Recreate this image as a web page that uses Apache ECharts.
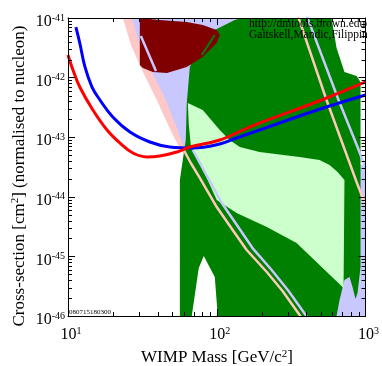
<!DOCTYPE html>
<html>
<head>
<meta charset="utf-8">
<script src="https://cdn.jsdelivr.net/npm/echarts@6/dist/echarts.min.js"></script>
<style>
  html, body { margin: 0; padding: 0; background: #fff; }
  #chart { width: 382px; height: 366px; }
</style>
</head>
<body>
<div id="chart"></div>
<script>
  // all points are [WIMP mass in GeV, cross-section in cm^2]
  var redLimit = [[10, 2.40e-42], [10.8, 1.34e-42], [12.0, 6.95e-43], [14.7, 2.86e-43], [18.3, 1.32e-43],
    [22.3, 8.00e-44], [27.3, 5.43e-44], [33.9, 4.66e-44], [41.4, 4.84e-44], [53.9, 5.65e-44],
    [65.9, 6.85e-44], [104.8, 8.97e-44], [166, 1.48e-43], [507, 4.21e-43], [1000, 8.44e-43]];
  var blueLimit = [[11.3, 7.06e-42], [12.0, 3.81e-42], [13.0, 1.51e-42], [14.5, 6.95e-43], [16.4, 4.21e-43],
    [20.0, 2.18e-43], [26.1, 1.22e-43], [35.5, 8.31e-44], [48.4, 6.85e-44], [69.0, 6.59e-44],
    [104.8, 7.69e-44], [136, 9.70e-44], [194, 1.32e-43], [360, 2.27e-43], [573, 3.34e-43], [1000, 5.11e-43]];

  var pinkBand = [[23.4, 1e-41], [26.5, 3.52e-42], [31.9, 1.24e-42], [39.5, 4.21e-43], [49.9, 1.18e-43],
    [57.3, 6.10e-44], [61.9, 4.84e-44], [61.0, 6.10e-44], [55.6, 1.18e-43], [45.5, 4.21e-43],
    [36.6, 1.24e-42], [30.4, 3.52e-42], [26.9, 1e-41]];
  var lavenderWedge = [[25.3, 1e-41], [166, 1e-41], [166, 1.94e-43], [76.9, 2.32e-44], [59.1, 6.10e-44],
    [53.1, 1.18e-43], [42.8, 4.21e-43], [34.4, 1.24e-42], [28.6, 3.52e-42]];
  var lavenderEdge = [[573, 3.42e-44], [1000, 3.42e-44], [1000, 1e-46], [573, 1e-46]];
  var greenRegion = [[56.5, 1e-46], [56.5, 1.91e-44], [59.1, 4.14e-44], [61.9, 8.97e-44], [62.9, 3.75e-43],
    [65.9, 1.51e-42], [76.9, 3.52e-42], [97.0, 6.29e-42], [132, 9.26e-42], [147, 1e-41], [591, 1e-41],
    [639, 3.14e-42], [722, 1.24e-42], [871, 1.06e-42], [926, 8.44e-43], [926, 6.64e-46], [884, 2.43e-46],
    [857, 1.93e-46], [818, 3.07e-46], [781, 4.51e-46], [722, 4.02e-46], [669, 1.85e-46], [639, 1e-46],
    [101.6, 1e-46], [97.0, 4.51e-46], [81.8, 1.02e-45], [75.7, 6.39e-46], [67.9, 1e-46]];
  var lightGreenRegion = [[63.9, 3.75e-43], [80.5, 2.86e-43], [104.8, 1.32e-43], [122, 8.97e-44], [143, 6.85e-44],
    [194, 5.65e-44], [360, 4.66e-44], [491, 4.14e-44], [573, 3.42e-44], [649, 2.61e-44], [722, 1.91e-44],
    [712, 2.95e-46], [344, 1.68e-45], [217, 3.11e-45], [136, 5.35e-45], [100, 8.84e-45], [85.7, 2.07e-44],
    [74.6, 4.14e-44], [66.9, 7.40e-44], [64.9, 1.60e-43]];
  var darkRedRegion = [[30.4, 1e-41], [41.4, 9.26e-42], [62.9, 8.57e-42], [80.5, 7.63e-42], [100, 6.29e-42],
    [104.8, 5.19e-42], [100, 3.81e-42], [80.5, 2.22e-42], [62.9, 1.51e-42], [46.2, 1.19e-42],
    [37.2, 1.24e-42], [31.9, 1.45e-42], [30.4, 1.63e-42]];
  var darkRedLavStreak = [[30.9, 4.99e-42], [39.0, 1.29e-42]];
  var darkRedGreenStreak = [[97.0, 5.19e-42], [79.3, 2.40e-42]];

  var pinkLineLower = [[60.0, 6.10e-44], [66.9, 3.69e-44], [76.9, 2.07e-44], [100, 6.74e-45], [128, 2.77e-45],
    [159, 1.28e-45], [217, 5.47e-46], [277, 2.63e-46], [390, 7.9e-47]];
  var lavLineLower = [[69.0, 6.10e-44], [83.0, 2.61e-44], [108.1, 7.87e-45], [138, 3.24e-45], [174, 1.38e-45],
    [234, 5.91e-46], [304, 2.63e-46], [428, 7.9e-47]];
  var pinkLineUpper = [[344, 1.26e-41], [547, 4.21e-43], [871, 1.77e-44], [1000, 7.28e-45]];
  var lavLineUpper = [[394, 1.26e-41], [659, 4.21e-43], [884, 6.85e-44], [1000, 3.04e-44]];

  // axis range as powers of ten
  var xDecades = [1, 2, 3];
  var yDecades = [-46, -45, -44, -43, -42, -41];

  var F = 'Liberation Serif';
  var PINK = '#ffc8c8', PINK_LINE = '#ffc8b8', LAV = '#c8c8ff', GREEN = '#008000', LGREEN = '#ccffcc', DRED = '#800000';

  function toLog(pts) {
    return pts.map(function (p) { return [Math.log10(p[0]), Math.log10(p[1])]; });
  }

  function areaSeries(pts, color) {
    var lp = toLog(pts);
    return {
      type: 'custom', coordinateSystem: 'cartesian2d', clip: true, silent: true,
      data: [lp[0]],
      renderItem: function (params, api) {
        return {
          type: 'polygon',
          shape: { points: lp.map(function (p) { return api.coord(p); }) },
          style: { fill: color }
        };
      }
    };
  }

  function lineSeries(pts, color, width, smooth) {
    return {
      type: 'line', data: toLog(pts), symbol: 'none', showSymbol: false, silent: true,
      smooth: smooth || false, clip: true,
      lineStyle: { color: color, width: width }
    };
  }

  // minor log ticks 2..9 in every decade
  var minorX = [], minorY = [];
  xDecades.slice(0, -1).forEach(function (d) { for (var k = 2; k <= 9; k++) minorX.push(d + Math.log10(k)); });
  yDecades.slice(0, -1).forEach(function (d) { for (var k = 2; k <= 9; k++) minorY.push(d + Math.log10(k)); });

  function seg(x1, y1, x2, y2) {
    return { type: 'line', shape: { x1: x1, y1: y1, x2: x2, y2: y2 }, style: { stroke: '#000', lineWidth: 1 } };
  }

  var minorTicks = {
    type: 'custom', coordinateSystem: 'cartesian2d', clip: false, silent: true, z: 10,
    data: [[xDecades[0], yDecades[0]]],
    renderItem: function (params, api) {
      var cs = params.coordSys, kids = [];
      var top = cs.y, bot = cs.y + cs.height, left = cs.x, right = cs.x + cs.width;
      minorX.forEach(function (v) {
        var x = Math.round(api.coord([v, yDecades[0]])[0]) + 0.5;
        kids.push(seg(x, bot, x, bot - 4), seg(x, top, x, top + 4));
      });
      minorY.forEach(function (v) {
        var y = Math.round(api.coord([xDecades[0], v])[1]) + 0.5;
        kids.push(seg(left, y, left + 4, y), seg(right, y, right - 4, y));
      });
      return { type: 'group', children: kids };
    }
  };

  var powRich = {
    b: { fontFamily: F, fontSize: 16, color: '#000', lineHeight: 18 },
    s: { fontFamily: F, fontSize: 10, color: '#000', verticalAlign: 'top', lineHeight: 10 }
  };
  function powLabel(v) { return '{b|10}{s|' + v + '}'; }

  function axis(extra) {
    var a = {
      type: 'value', z: 5,
      axisLine: { show: true, onZero: false, lineStyle: { color: '#000', width: 1 } },
      axisTick: { show: true, inside: true, length: 7, lineStyle: { color: '#000' } },
      splitLine: { show: false },
      axisLabel: { show: false }
    };
    for (var k in extra) a[k] = extra[k];
    return a;
  }

  var xr = { min: xDecades[0], max: xDecades[xDecades.length - 1], interval: 1 };
  var yr = { min: yDecades[0], max: yDecades[yDecades.length - 1], interval: 1 };

  var chart = echarts.init(document.getElementById('chart'));
  chart.setOption({
    animation: false,
    backgroundColor: '#fff',
    grid: { left: 68, top: 18, width: 298, height: 298, containLabel: false },
    xAxis: [
      axis({ position: 'bottom', min: xr.min, max: xr.max, interval: xr.interval,
        axisLabel: { show: true, margin: 10, formatter: powLabel, rich: powRich, padding: [0, 0, 0, 6] } }),
      axis({ position: 'top', min: xr.min, max: xr.max, interval: xr.interval })
    ],
    yAxis: [
      axis({ position: 'left', min: yr.min, max: yr.max, interval: yr.interval,
        axisLabel: { show: true, margin: 3, formatter: powLabel, rich: powRich, padding: [8, 0, 0, 0] } }),
      axis({ position: 'right', min: yr.min, max: yr.max, interval: yr.interval })
    ],
    series: [
      areaSeries(lavenderWedge, LAV),
      areaSeries(lavenderEdge, LAV),
      areaSeries(pinkBand, PINK),
      areaSeries(greenRegion, GREEN),
      areaSeries(lightGreenRegion, LGREEN),
      areaSeries(darkRedRegion, DRED),
      lineSeries(darkRedLavStreak, LAV, 2.5),
      lineSeries(darkRedGreenStreak, GREEN, 2),
      lineSeries(pinkLineLower, PINK_LINE, 2.5),
      lineSeries(lavLineLower, LAV, 2.5),
      lineSeries(pinkLineUpper, PINK_LINE, 2.5),
      lineSeries(lavLineUpper, LAV, 2.5),
      lineSeries(blueLimit, '#0000ff', 3, 0.4),
      lineSeries(redLimit, '#ff0000', 3, 0.4),
      minorTicks
    ],
    graphic: [
      { type: 'text', x: 249, y: 18, z: 100, silent: true,
        style: { text: 'http://dmtools.brown.edu/', fontFamily: F, fontSize: 11.5, fill: '#000', verticalAlign: 'top' } },
      { type: 'text', x: 249, y: 29, z: 100, silent: true,
        style: { text: 'Gaitskell,Mandic,Filippini', fontFamily: F, fontSize: 11.5, fill: '#000', verticalAlign: 'top' } },
      { type: 'rect', z: 101, silent: true, shape: { x: 367, y: 15, width: 15, height: 35 }, style: { fill: '#fff' } },
      { type: 'text', x: 69, y: 309, z: 100, silent: true,
        style: { text: '080715180300', fontFamily: F, fontSize: 7, fill: '#000', verticalAlign: 'top' } },
      { type: 'text', x: 217, y: 358, z: 100, silent: true,
        style: { text: '{t|WIMP Mass [GeV/c}{s|2}{t|]}', align: 'center', verticalAlign: 'middle',
          rich: { t: { fontFamily: F, fontSize: 17, fill: '#000', lineHeight: 19 },
                  s: { fontFamily: F, fontSize: 11, fill: '#000', verticalAlign: 'top', lineHeight: 11 } } } },
      { type: 'text', x: 19.5, y: 176, rotation: Math.PI / 2, z: 100, silent: true,
        style: { text: '{t|Cross-section [cm}{s|2}{t|] (normalised to nucleon)}', align: 'center', verticalAlign: 'middle',
          rich: { t: { fontFamily: F, fontSize: 17, fill: '#000', lineHeight: 19 },
                  s: { fontFamily: F, fontSize: 11, fill: '#000', verticalAlign: 'top', lineHeight: 11 } } } }
    ]
  });
  window.addEventListener('resize', chart.resize);
</script>
</body>
</html>
